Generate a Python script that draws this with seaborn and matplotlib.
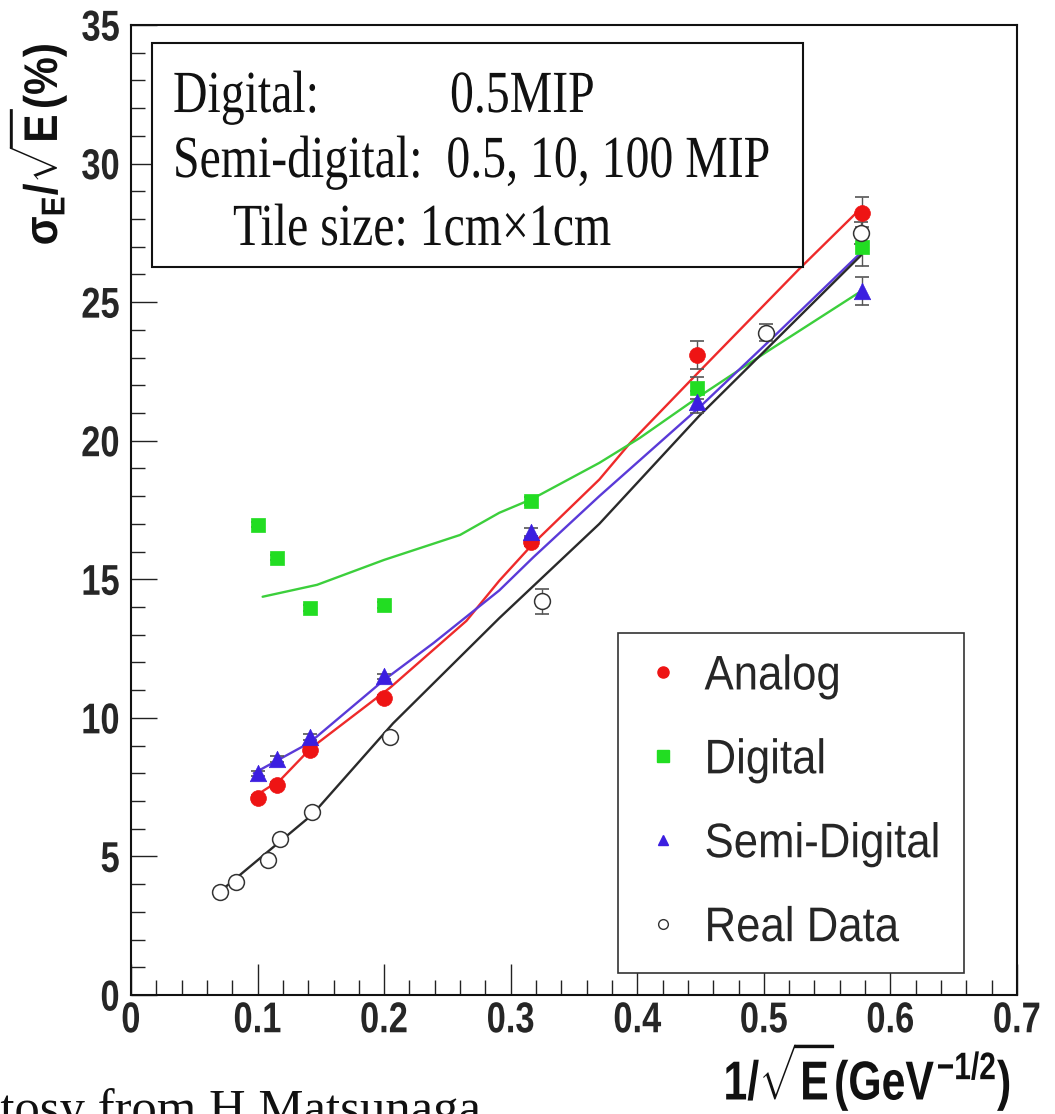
import matplotlib
matplotlib.use("Agg")
import numpy as np
import pandas as pd
import matplotlib.pyplot as plt
import seaborn as sns
from matplotlib.patheffects import AbstractPathEffect
from matplotlib.transforms import Affine2D
from matplotlib.patches import Rectangle
from matplotlib.lines import Line2D
from matplotlib.ticker import MultipleLocator
from matplotlib.font_manager import FontProperties

# ---------------- data ----------------
x_sim = [0.1, 0.1155, 0.1414, 0.2, 0.3162, 0.4472, 0.5774]
analog = [7.11, 7.58, 8.84, 10.72, 16.35, 23.1, 28.2]
analog_err = [0.1, 0.1, 0.1, 0.1, 0.15, 0.5, 0.6]
digital = [16.97, 15.78, 13.97, 14.08, 17.83, 21.9, 27.0]
digital_err = [0.1, 0.1, 0.1, 0.1, 0.15, 0.4, 0.7]
semi = [8.0, 8.52, 9.31, 11.5, 16.7, 21.4, 25.4]
semi_err = [0.1, 0.1, 0.1, 0.1, 0.15, 0.4, 0.5]

x_real = [0.070, 0.083, 0.108, 0.118, 0.143, 0.205, 0.325, 0.502, 0.577]
real = [3.72, 4.08, 4.87, 5.63, 6.61, 9.31, 14.2, 23.9, 27.5]
real_err = [0.1, 0.1, 0.1, 0.1, 0.1, 0.15, 0.45, 0.3, 0.4]

# fitted curves
fit_analog_x = [0.097, 0.118, 0.142, 0.205, 0.265, 0.291, 0.318, 0.370, 0.394, 0.449, 0.528, 0.577]
fit_analog_y = [7.15, 7.76, 8.9, 11.1, 13.5, 14.95, 16.3, 18.6, 19.9, 22.5, 26.2, 28.4]
fit_digital_x = [0.104, 0.147, 0.2, 0.26, 0.291, 0.317, 0.370, 0.402, 0.449, 0.502, 0.577]
fit_digital_y = [14.37, 14.8, 15.7, 16.6, 17.4, 17.9, 19.2, 20.1, 21.6, 23.2, 25.4]
fit_semi_x = [0.097, 0.141, 0.2, 0.239, 0.291, 0.318, 0.370, 0.449, 0.502, 0.577]
fit_semi_y = [8.0, 9.1, 11.37, 12.7, 14.6, 15.8, 18.0, 21.2, 23.5, 26.8]
fit_real_x = [0.07, 0.143, 0.207, 0.291, 0.370, 0.449, 0.502, 0.577]
fit_real_y = [3.72, 6.5, 9.8, 13.6, 17.0, 20.9, 23.3, 26.7]

series_names = ["Analog", "Digital", "Semi-Digital", "Real Data"]
x_ticks = [0, 0.1, 0.2, 0.3, 0.4, 0.5, 0.6, 0.7]
x_ticklabels = ["0", "0.1", "0.2", "0.3", "0.4", "0.5", "0.6", "0.7"]
y_ticks = [0, 5, 10, 15, 20, 25, 30, 35]
y_ticklabels = ["0", "5", "10", "15", "20", "25", "30", "35"]
info_lines = ["Digital:", "0.5MIP", "Semi-digital:  0.5, 10, 100 MIP", "Tile size: 1cm\u00d71cm"]
x_label = r"$1/\sqrt{E}(GeV^{-1/2})$"
y_label = r"$\sigma_{E}/\sqrt{E}(\%)$"
credit = "Courtosy from H Matsunaga"


class Squeeze(AbstractPathEffect):
    """Condense glyph outlines horizontally (scanned-figure look)."""
    def __init__(self, sx=0.8, pivot="left"):
        super().__init__()
        self.sx = sx
        self.pivot = pivot

    def draw_path(self, renderer, gc, tpath, affine, rgbFace=None):
        v = tpath.vertices
        if len(v):
            xmin, xmax = float(v[:, 0].min()), float(v[:, 0].max())
        else:
            xmin = xmax = 0.0
        p = {"left": 0.0, "center": 0.5 * (xmin + xmax), "right": xmax}[self.pivot]
        t = Affine2D().translate(-p, 0).scale(self.sx, 1.0).translate(p, 0) + affine
        renderer.draw_path(gc, tpath, t, rgbFace)


sns.set_style("white")
plt.rcParams["font.family"] = ["Liberation Sans", "DejaVu Sans"]
plt.rcParams["mathtext.fontset"] = "custom"
plt.rcParams["mathtext.rm"] = "Liberation Sans:bold"
plt.rcParams["mathtext.it"] = "Liberation Sans:bold"
plt.rcParams["mathtext.bf"] = "Liberation Sans:bold"
plt.rcParams["mathtext.sf"] = "Liberation Sans:bold"

W, H = 1055, 1114
fig = plt.figure(figsize=(W / 100, H / 100), dpi=100)
fig.patch.set_facecolor("white")
ax = fig.add_axes([131 / W, 1 - 995 / H, 886 / W, 970 / H])
ax.set_facecolor("white")

C_RED, C_GREEN, C_BLUE, C_BLACK = "#ee1414", "#22dd22", "#3b1ee0", "#222222"
L_RED, L_GREEN, L_BLUE, L_BLACK = "#ee2a2a", "#3ccf3c", "#5a3ad8", "#2a2a2a"

# fit curves
fits = [
    (fit_analog_x, fit_analog_y, L_RED),
    (fit_digital_x, fit_digital_y, L_GREEN),
    (fit_semi_x, fit_semi_y, L_BLUE),
    (fit_real_x, fit_real_y, L_BLACK),
]
for fx, fy, col in fits:
    df = pd.DataFrame({"x": fx, "y": fy})
    sns.lineplot(data=df, x="x", y="y", ax=ax, color=col, lw=1.7,
                 sort=False, estimator=None, zorder=2)

# error bars
for xs, ys, es in [(x_sim, analog, analog_err), (x_sim, digital, digital_err),
                   (x_sim, semi, semi_err), (x_real, real, real_err)]:
    ax.errorbar(xs, ys, yerr=es, fmt="none", ecolor="#555555", elinewidth=1.0,
                capsize=5, capthick=1.2, zorder=3)

# markers
pts = [
    (x_sim, analog, "o", C_RED, C_RED, 130),
    (x_sim, digital, "s", C_GREEN, C_GREEN, 110),
    (x_sim, semi, "^", C_BLUE, C_BLUE, 140),
]
for xs, ys, m, fc, ec, s in pts:
    sns.scatterplot(x=xs, y=ys, ax=ax, marker=m, color=fc, edgecolor=ec,
                    s=s, linewidth=0.5, zorder=4)
sns.scatterplot(x=x_real, y=real, ax=ax, marker="o", facecolor="white",
                edgecolor="#333333", s=130, linewidth=1.1, zorder=4)

ax.set_xlim(0, 0.7)
ax.set_ylim(0, 35)
ax.set_xlabel("")
ax.set_ylabel("")
ax.set_xticks(x_ticks)
ax.set_xticklabels(x_ticklabels)
ax.set_yticks(y_ticks)
ax.set_yticklabels(y_ticklabels)
ax.xaxis.set_minor_locator(MultipleLocator(0.02))
ax.yaxis.set_minor_locator(MultipleLocator(1))
for sp in ax.spines.values():
    sp.set_visible(True)
    sp.set_color("#111111")
    sp.set_linewidth(1.5)
ax.tick_params(axis="x", which="major", direction="in", length=22, width=1.0,
               color="#222222", pad=4.5, top=False, bottom=True)
ax.tick_params(axis="x", which="minor", direction="in", length=11, width=1.0,
               color="#222222", top=False, bottom=True)
ax.tick_params(axis="y", which="major", direction="in", length=19, width=1.0,
               color="#222222", pad=8, right=False, left=True)
ax.tick_params(axis="y", which="minor", direction="in", length=10, width=1.0,
               color="#222222", right=False, left=True)
for lab in ax.get_xticklabels():
    lab.set_fontsize(31)
    lab.set_fontweight("bold")
    lab.set_path_effects([Squeeze(0.8, "center")])
for lab in ax.get_yticklabels():
    lab.set_fontsize(31)
    lab.set_fontweight("bold")
    lab.set_path_effects([Squeeze(0.8, "right")])

# legend
handles = [
    Line2D([], [], ls="none", marker="o", color=C_RED, ms=8),
    Line2D([], [], ls="none", marker="s", color=C_GREEN, ms=8),
    Line2D([], [], ls="none", marker="^", color=C_BLUE, ms=7),
    Line2D([], [], ls="none", marker="o", mfc="white", mec="#333333", ms=7, mew=1.0),
]
x0 = (618 - 131) / 886
y0 = (995 - 973) / 970
leg = ax.legend(handles, series_names, loc="lower left",
                bbox_to_anchor=(x0, y0, 346 / 886, 0.35), mode="expand",
                borderaxespad=0, prop=FontProperties(family="Liberation Sans", size=35),
                frameon=True, fancybox=False, framealpha=1, edgecolor="#333333",
                borderpad=0.45, labelspacing=0.8, handlelength=0.95,
                handletextpad=0.38)
leg.get_frame().set_linewidth(1.2)
leg.set_zorder(10)
for t in leg.get_texts():
    t.set_path_effects([Squeeze(0.9, "left")])

# info box
rect = Rectangle((152 / W, 1 - 267 / H), (803 - 152) / W, (267 - 43) / H,
                 transform=fig.transFigure, facecolor="white", edgecolor="#111111",
                 linewidth=1.5, zorder=5)
fig.add_artist(rect)
serif = ["Liberation Serif", "DejaVu Serif"]
info_pos = [(173, 112), (450, 112), (173, 177), (233, 245)]
for txt, (px, py) in zip(info_lines, info_pos):
    fig.text(px / W, 1 - py / H, txt, family=serif, fontsize=43, ha="left",
             va="baseline", zorder=6, color="#111111",
             path_effects=[Squeeze(0.8, "left")])

# axis titles
fig.text(1012 / W, 1 - 1100 / H, x_label, fontsize=39.5, ha="right", va="baseline",
         color="#111111", path_effects=[Squeeze(0.78, "right")])
fig.text(37 / W, 1 - 43 / H, y_label, fontsize=34, rotation=90, ha="center",
         va="top", color="#111111", path_effects=[Squeeze(0.9, "right")])

# credit line (clipped at the bottom edge as in the slide)
fig.text(481 / W, 1 - 1124 / H, credit, family=serif, fontsize=36.5, ha="right",
         va="baseline", color="#111111")

fig.savefig("out.png", dpi=100, facecolor="white")
